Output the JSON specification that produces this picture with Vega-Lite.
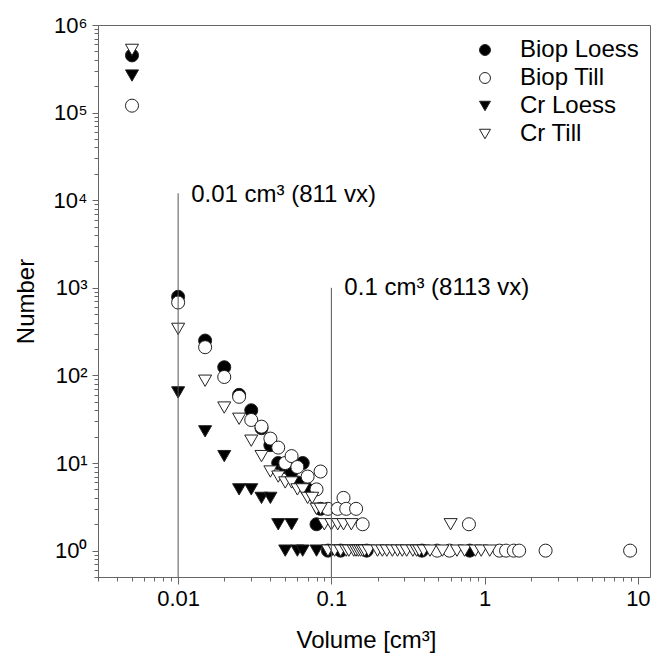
{
  "$schema": "https://vega.github.io/schema/vega-lite/v6.json",
  "width": 552,
  "height": 552,
  "autosize": {"type": "none"},
  "padding": {"left": 98, "top": 25, "right": 12, "bottom": 78},
  "background": "white",
  "config": {
    "view": {"stroke": "#666", "strokeWidth": 1},
    "font": "Liberation Sans",
    "axis": {
      "grid": false,
      "domainColor": "#666",
      "tickColor": "#666",
      "labelFont": "Liberation Sans",
      "labelFontSize": 22,
      "labelColor": "black",
      "titleFont": "Liberation Sans",
      "titleFontSize": 24,
      "titleFontWeight": "normal",
      "titleColor": "black",
      "labelOverlap": false,
      "labelBound": false,
      "labelFlush": false
    },
    "legend": {
      "orient": "none",
      "legendX": 375,
      "legendY": 13,
      "labelFont": "Liberation Sans",
      "labelFontSize": 24,
      "labelColor": "black",
      "symbolSize": 120,
      "symbolStrokeWidth": 1,
      "rowPadding": 4,
      "labelOffset": 23,
      "padding": 0
    }
  },
  "datasets": {
    "pts": [
      {"s": "Biop Loess", "v": 0.005, "n": 450000},
      {"s": "Biop Loess", "v": 0.01, "n": 790},
      {"s": "Biop Loess", "v": 0.015, "n": 250},
      {"s": "Biop Loess", "v": 0.02, "n": 124},
      {"s": "Biop Loess", "v": 0.025, "n": 60},
      {"s": "Biop Loess", "v": 0.03, "n": 40},
      {"s": "Biop Loess", "v": 0.035, "n": 25},
      {"s": "Biop Loess", "v": 0.04, "n": 16},
      {"s": "Biop Loess", "v": 0.045, "n": 10},
      {"s": "Biop Loess", "v": 0.05, "n": 9},
      {"s": "Biop Loess", "v": 0.055, "n": 8},
      {"s": "Biop Loess", "v": 0.06, "n": 6},
      {"s": "Biop Loess", "v": 0.065, "n": 10},
      {"s": "Biop Loess", "v": 0.07, "n": 5},
      {"s": "Biop Loess", "v": 0.08, "n": 2},
      {"s": "Biop Loess", "v": 0.085, "n": 3},
      {"s": "Biop Loess", "v": 0.095, "n": 1},
      {"s": "Biop Loess", "v": 0.115, "n": 1},
      {"s": "Biop Loess", "v": 0.17, "n": 1},
      {"s": "Biop Loess", "v": 0.39, "n": 1},
      {"s": "Biop Loess", "v": 0.8, "n": 1},
      {"s": "Biop Till", "v": 0.005, "n": 120000},
      {"s": "Biop Till", "v": 0.01, "n": 680},
      {"s": "Biop Till", "v": 0.015, "n": 210},
      {"s": "Biop Till", "v": 0.02, "n": 96},
      {"s": "Biop Till", "v": 0.025, "n": 57},
      {"s": "Biop Till", "v": 0.03, "n": 31},
      {"s": "Biop Till", "v": 0.035, "n": 26},
      {"s": "Biop Till", "v": 0.04, "n": 19},
      {"s": "Biop Till", "v": 0.045, "n": 15},
      {"s": "Biop Till", "v": 0.05, "n": 10},
      {"s": "Biop Till", "v": 0.055, "n": 12},
      {"s": "Biop Till", "v": 0.06, "n": 9},
      {"s": "Biop Till", "v": 0.07, "n": 7},
      {"s": "Biop Till", "v": 0.08, "n": 5},
      {"s": "Biop Till", "v": 0.085, "n": 8},
      {"s": "Biop Till", "v": 0.095, "n": 3},
      {"s": "Biop Till", "v": 0.11, "n": 3},
      {"s": "Biop Till", "v": 0.12, "n": 4},
      {"s": "Biop Till", "v": 0.125, "n": 3},
      {"s": "Biop Till", "v": 0.145, "n": 3},
      {"s": "Biop Till", "v": 0.16, "n": 2},
      {"s": "Biop Till", "v": 0.79, "n": 2},
      {"s": "Biop Till", "v": 0.49, "n": 1},
      {"s": "Biop Till", "v": 0.59, "n": 1},
      {"s": "Biop Till", "v": 1.25, "n": 1},
      {"s": "Biop Till", "v": 1.38, "n": 1},
      {"s": "Biop Till", "v": 1.55, "n": 1},
      {"s": "Biop Till", "v": 1.68, "n": 1},
      {"s": "Biop Till", "v": 2.5, "n": 1},
      {"s": "Biop Till", "v": 8.9, "n": 1},
      {"s": "Cr Loess", "v": 0.005, "n": 265000},
      {"s": "Cr Loess", "v": 0.01, "n": 64},
      {"s": "Cr Loess", "v": 0.015, "n": 23},
      {"s": "Cr Loess", "v": 0.02, "n": 12},
      {"s": "Cr Loess", "v": 0.025, "n": 5},
      {"s": "Cr Loess", "v": 0.03, "n": 5},
      {"s": "Cr Loess", "v": 0.035, "n": 4},
      {"s": "Cr Loess", "v": 0.04, "n": 4},
      {"s": "Cr Loess", "v": 0.045, "n": 2},
      {"s": "Cr Loess", "v": 0.05, "n": 1},
      {"s": "Cr Loess", "v": 0.055, "n": 2},
      {"s": "Cr Loess", "v": 0.06, "n": 1},
      {"s": "Cr Loess", "v": 0.065, "n": 1},
      {"s": "Cr Loess", "v": 0.08, "n": 1},
      {"s": "Cr Loess", "v": 0.095, "n": 1},
      {"s": "Cr Loess", "v": 0.115, "n": 1},
      {"s": "Cr Till", "v": 0.005, "n": 520000},
      {"s": "Cr Till", "v": 0.01, "n": 340},
      {"s": "Cr Till", "v": 0.015, "n": 87},
      {"s": "Cr Till", "v": 0.02, "n": 43},
      {"s": "Cr Till", "v": 0.025, "n": 32},
      {"s": "Cr Till", "v": 0.03, "n": 18},
      {"s": "Cr Till", "v": 0.035, "n": 12},
      {"s": "Cr Till", "v": 0.04, "n": 8},
      {"s": "Cr Till", "v": 0.045, "n": 7},
      {"s": "Cr Till", "v": 0.05, "n": 6},
      {"s": "Cr Till", "v": 0.055, "n": 6},
      {"s": "Cr Till", "v": 0.06, "n": 5},
      {"s": "Cr Till", "v": 0.065, "n": 5},
      {"s": "Cr Till", "v": 0.07, "n": 4},
      {"s": "Cr Till", "v": 0.075, "n": 4},
      {"s": "Cr Till", "v": 0.08, "n": 3},
      {"s": "Cr Till", "v": 0.085, "n": 3},
      {"s": "Cr Till", "v": 0.09, "n": 2},
      {"s": "Cr Till", "v": 0.1, "n": 2},
      {"s": "Cr Till", "v": 0.11, "n": 2},
      {"s": "Cr Till", "v": 0.12, "n": 2},
      {"s": "Cr Till", "v": 0.135, "n": 2},
      {"s": "Cr Till", "v": 0.6, "n": 2},
      {"s": "Cr Till", "v": 0.095, "n": 1},
      {"s": "Cr Till", "v": 0.105, "n": 1},
      {"s": "Cr Till", "v": 0.115, "n": 1},
      {"s": "Cr Till", "v": 0.125, "n": 1},
      {"s": "Cr Till", "v": 0.13, "n": 1},
      {"s": "Cr Till", "v": 0.14, "n": 1},
      {"s": "Cr Till", "v": 0.145, "n": 1},
      {"s": "Cr Till", "v": 0.15, "n": 1},
      {"s": "Cr Till", "v": 0.155, "n": 1},
      {"s": "Cr Till", "v": 0.16, "n": 1},
      {"s": "Cr Till", "v": 0.165, "n": 1},
      {"s": "Cr Till", "v": 0.175, "n": 1},
      {"s": "Cr Till", "v": 0.2, "n": 1},
      {"s": "Cr Till", "v": 0.215, "n": 1},
      {"s": "Cr Till", "v": 0.23, "n": 1},
      {"s": "Cr Till", "v": 0.25, "n": 1},
      {"s": "Cr Till", "v": 0.27, "n": 1},
      {"s": "Cr Till", "v": 0.29, "n": 1},
      {"s": "Cr Till", "v": 0.31, "n": 1},
      {"s": "Cr Till", "v": 0.34, "n": 1},
      {"s": "Cr Till", "v": 0.36, "n": 1},
      {"s": "Cr Till", "v": 0.375, "n": 1},
      {"s": "Cr Till", "v": 0.4, "n": 1},
      {"s": "Cr Till", "v": 0.44, "n": 1},
      {"s": "Cr Till", "v": 0.53, "n": 1},
      {"s": "Cr Till", "v": 0.66, "n": 1},
      {"s": "Cr Till", "v": 0.74, "n": 1},
      {"s": "Cr Till", "v": 0.87, "n": 1},
      {"s": "Cr Till", "v": 0.95, "n": 1},
      {"s": "Cr Till", "v": 1.08, "n": 1}
    ],
    "rules": [
      {"v": 0.01, "lo": 0.5, "hi": 12000},
      {"v": 0.1, "lo": 0.5, "hi": 1000}
    ],
    "notes": [
      {"v": 0.01, "n": 11500, "label": "0.01 cm³ (811 vx)"},
      {"v": 0.1, "n": 1000, "label": "0.1 cm³ (8113 vx)"}
    ]
  },
  "layer": [
    {
      "data": {"name": "pts"},
      "mark": {"type": "point", "filled": true, "strokeWidth": 1, "opacity": 1, "size": 170},
      "encoding": {
        "x": {
          "field": "v", "type": "quantitative",
          "scale": {"type": "log", "domain": [0.003, 12], "nice": false},
          "axis": {
            "title": "Volume [cm³]",
            "values": [0.003,0.004,0.005,0.006,0.007,0.008,0.009,0.01,0.02,0.03,0.04,0.05,0.06,0.07,0.08,0.09,0.1,0.2,0.3,0.4,0.5,0.6,0.7,0.8,0.9,1,2,3,4,5,6,7,8,9,10],
            "labelExpr": "datum.value == 0.01 ? '0.01' : datum.value == 0.1 ? '0.1' : datum.value == 1 ? '1' : datum.value == 10 ? '10' : ''",
            "tickSize": {"condition": {"test": "datum.value == 0.01 || datum.value == 0.1 || datum.value == 1 || datum.value == 10", "value": 7}, "value": 4},
            "labelPadding": 4,
            "titleBaseline": "alphabetic",
            "titleAlign": "center",
            "titleX": 268,
            "titleY": 70
          }
        },
        "y": {
          "field": "n", "type": "quantitative",
          "scale": {"type": "log", "domain": [0.5, 1000000], "nice": false},
          "axis": {
            "title": "Number",
            "values": [0.5,0.6,0.7,0.8,0.9,1,2,3,4,5,6,7,8,9,10,20,30,40,50,60,70,80,90,100,200,300,400,500,600,700,800,900,1000,2000,3000,4000,5000,6000,7000,8000,9000,10000,20000,30000,40000,50000,60000,70000,80000,90000,100000,200000,300000,400000,500000,600000,700000,800000,900000,1000000],
            "labelExpr": "datum.value == 1 ? '10⁰' : datum.value == 10 ? '10¹' : datum.value == 100 ? '10²' : datum.value == 1000 ? '10³' : datum.value == 10000 ? '10⁴' : datum.value == 100000 ? '10⁵' : datum.value == 1000000 ? '10⁶' : ''",
            "tickSize": {"condition": {"test": "datum.value == 1 || datum.value == 10 || datum.value == 100 || datum.value == 1000 || datum.value == 10000 || datum.value == 100000 || datum.value == 1000000", "value": 6}, "value": 4},
            "labelPadding": 5,
            "titleBaseline": "alphabetic",
            "titleX": -65
          }
        },
        "shape": {
          "field": "s", "type": "nominal",
          "scale": {"domain": ["Biop Loess", "Biop Till", "Cr Loess", "Cr Till"], "range": ["circle", "circle", "triangle-down", "triangle-down"]},
          "legend": {"title": null}
        },
        "fill": {
          "field": "s", "type": "nominal",
          "scale": {"domain": ["Biop Loess", "Biop Till", "Cr Loess", "Cr Till"], "range": ["black", "white", "black", "white"]},
          "legend": {"title": null}
        },
        "stroke": {
          "field": "s", "type": "nominal",
          "scale": {"domain": ["Biop Loess", "Biop Till", "Cr Loess", "Cr Till"], "range": ["#222", "#222", "#222", "#222"]},
          "legend": {"title": null}
        }
      }
    },
    {
      "data": {"name": "rules"},
      "mark": {"type": "rule", "color": "#555", "strokeWidth": 1},
      "encoding": {
        "x": {"field": "v", "type": "quantitative"},
        "y": {"field": "lo", "type": "quantitative"},
        "y2": {"field": "hi"}
      }
    },
    {
      "data": {"name": "notes"},
      "mark": {"type": "text", "align": "left", "baseline": "middle", "dx": 13, "fontSize": 24, "font": "Liberation Sans", "color": "black"},
      "encoding": {
        "x": {"field": "v", "type": "quantitative"},
        "y": {"field": "n", "type": "quantitative"},
        "text": {"field": "label"}
      }
    }
  ]
}
